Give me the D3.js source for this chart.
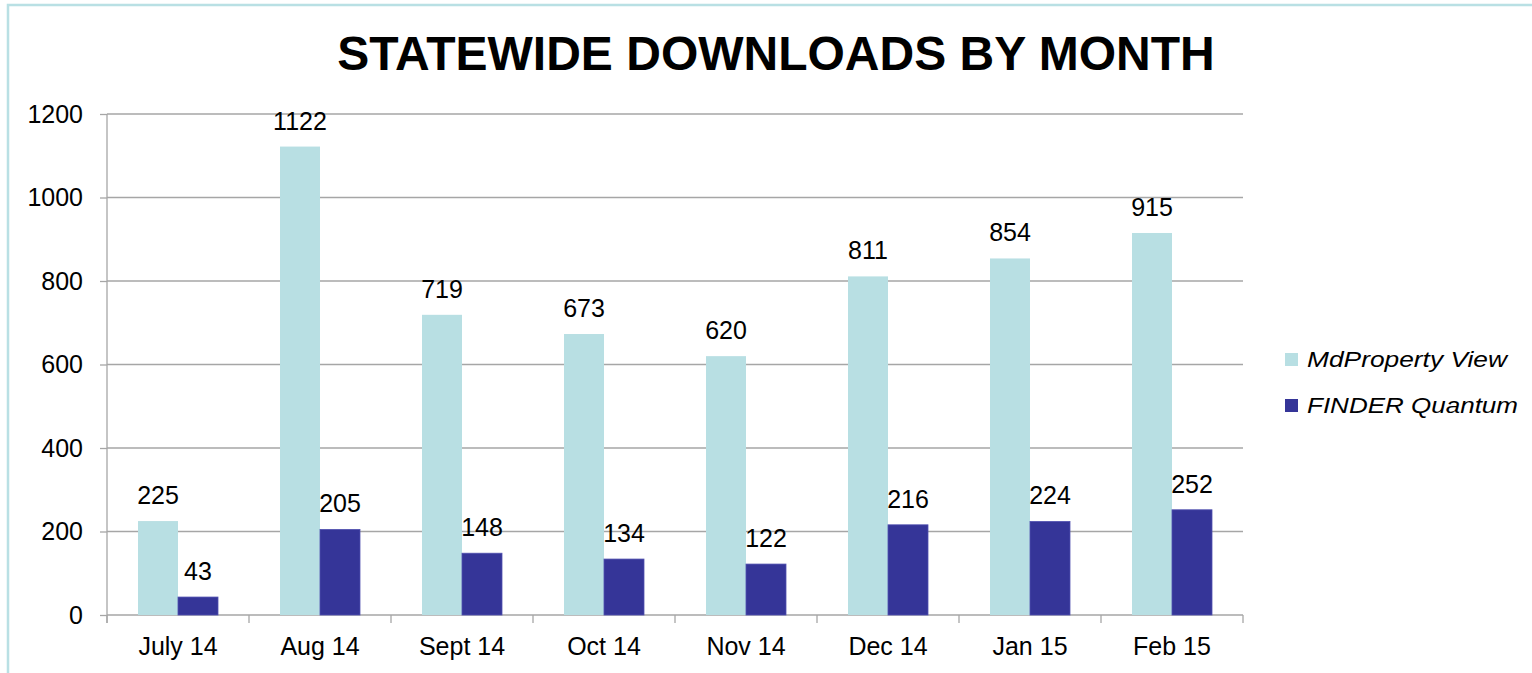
<!DOCTYPE html>
<html>
<head>
<meta charset="utf-8">
<script src="https://cdn.jsdelivr.net/npm/d3@7"></script>
<style>
  html, body { margin: 0; padding: 0; background: #fff; }
  svg { display: block; }
  text { font-family: "Liberation Sans", Arial, sans-serif; fill: #000; }
</style>
</head>
<body>
<script>
const months = ["July 14", "Aug 14", "Sept 14", "Oct 14", "Nov 14", "Dec 14", "Jan 15", "Feb 15"];
const mdPropertyView = [225, 1122, 719, 673, 620, 811, 854, 915];
const finderQuantum = [43, 205, 148, 134, 122, 216, 224, 252];
const seriesNames = ["MdProperty View", "FINDER Quantum"];
const seriesColors = ["#b8dfe3", "#353598"];
const yTicks = [0, 200, 400, 600, 800, 1000, 1200];
const title = "STATEWIDE DOWNLOADS BY MONTH";

const W = 1532, H = 673;
const plot = { left: 107, right: 1243, top: 114, bottom: 615 };

const svg = d3.select("body").append("svg").attr("width", W).attr("height", H);

// outer border
svg.append("rect").attr("x", 8).attr("y", 5).attr("width", W + 20).attr("height", H + 20)
  .attr("fill", "none").attr("stroke", "#b9e0e4").attr("stroke-width", 2.5);

const x = d3.scaleBand().domain(months).range([plot.left, plot.right]).paddingInner(0).paddingOuter(0);
const inner = d3.scaleBand().domain([0, 1]).range([0, x.bandwidth()]).paddingOuter(0.775).paddingInner(0);
const y = d3.scaleLinear().domain([0, 1200]).range([plot.bottom, plot.top]);

// gridlines
svg.append("g").selectAll("line").data(yTicks.filter(d => d > 0)).join("line")
  .attr("x1", plot.left).attr("x2", plot.right)
  .attr("y1", d => y(d)).attr("y2", d => y(d))
  .attr("stroke", "#a6a6a6").attr("stroke-width", 1.3);

// y axis
const yAxis = svg.append("g").attr("transform", `translate(${plot.left},0)`)
  .call(d3.axisLeft(y).tickValues(yTicks).tickFormat(d3.format("d")).tickSize(7).tickPadding(17));
yAxis.select(".domain").attr("stroke", "#a6a6a6").attr("stroke-width", 1.3)
  .attr("d", `M0,${plot.top}V${plot.bottom + 8}`);
yAxis.selectAll(".tick line").attr("stroke", "#a6a6a6").attr("stroke-width", 1.3);
yAxis.selectAll(".tick text").attr("font-size", 25).attr("font-family", "Liberation Sans, Arial, sans-serif").attr("fill", "#000");

// x axis
const xAxisG = svg.append("g");
xAxisG.append("line").attr("x1", plot.left).attr("x2", plot.right)
  .attr("y1", y(0)).attr("y2", y(0)).attr("stroke", "#a6a6a6").attr("stroke-width", 1.3);
const boundaries = months.map(m => x(m)).concat([plot.right]);
xAxisG.selectAll("line.tk").data(boundaries).join("line").attr("class", "tk")
  .attr("x1", d => d).attr("x2", d => d).attr("y1", y(0)).attr("y2", y(0) + 8)
  .attr("stroke", "#a6a6a6").attr("stroke-width", 1.3);
xAxisG.selectAll("text").data(months).join("text")
  .attr("x", d => x(d) + x.bandwidth() / 2).attr("y", 655)
  .attr("text-anchor", "middle").attr("font-size", 25).text(d => d);

// bars
const series = [mdPropertyView, finderQuantum];
series.forEach((vals, si) => {
  const g = svg.append("g");
  g.selectAll("rect").data(vals).join("rect")
    .attr("x", (d, i) => x(months[i]) + inner(si))
    .attr("y", d => y(d))
    .attr("width", inner.bandwidth())
    .attr("height", d => y(0) - y(d))
    .attr("fill", seriesColors[si])
    .attr("stroke", si === 1 ? "#5050b0" : "none")
    .attr("stroke-width", si === 1 ? 0.8 : 0);
  g.selectAll("text").data(vals).join("text")
    .attr("x", (d, i) => x(months[i]) + inner(si) + inner.bandwidth() / 2)
    .attr("y", d => y(d) - 17)
    .attr("text-anchor", "middle").attr("font-size", 25).text(d => d);
});

// title
svg.append("text").attr("x", 776).attr("y", 70).attr("text-anchor", "middle")
  .attr("font-size", 48).attr("font-weight", "bold").text(title);

// legend
const legendY = [359, 405];
const legendW = [200, 211];
seriesNames.forEach((name, i) => {
  svg.append("rect").attr("x", 1285).attr("y", legendY[i] - 6).attr("width", 13).attr("height", 13)
    .attr("fill", seriesColors[i]);
  svg.append("text").attr("x", 1307).attr("y", legendY[i] + 8)
    .attr("font-size", 21.5).attr("font-style", "italic")
    .attr("textLength", legendW[i]).attr("lengthAdjust", "spacingAndGlyphs")
    .text(name);
});
</script>
</body>
</html>
